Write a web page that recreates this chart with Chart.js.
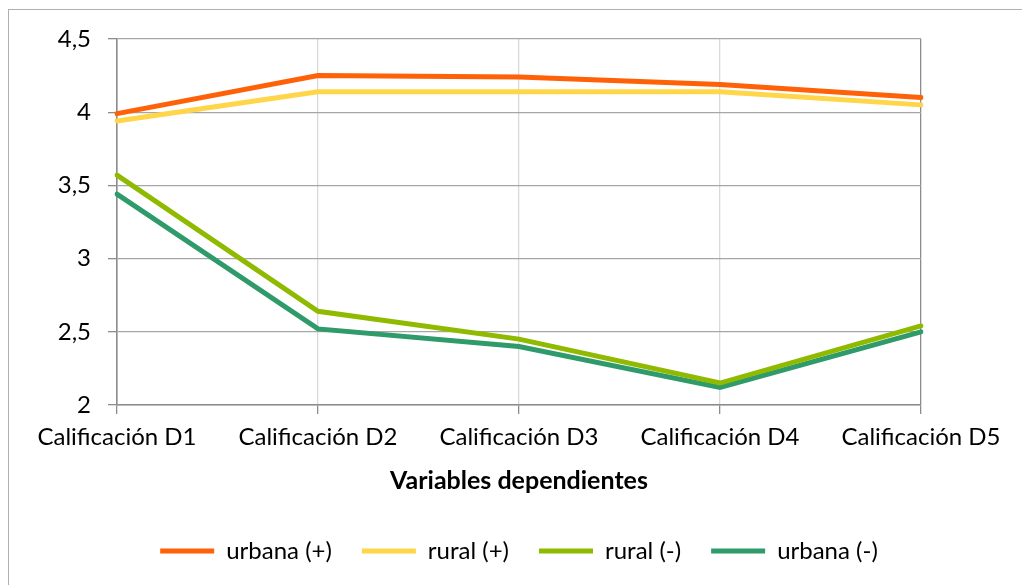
<!DOCTYPE html>
<html>
<head>
<meta charset="utf-8">
<script src="https://cdn.jsdelivr.net/npm/chart.js@4/dist/chart.umd.min.js"></script>
<style>
  html, body { margin: 0; padding: 0; background: #fff; }
  #wrap { position: relative; width: 1022px; height: 585px; overflow: hidden; }
  #frame { position: absolute; left: 8px; top: 9px; width: 1100px; height: 700px;
           border-left: 1.5px solid #b0b0b0; border-top: 1.5px solid #b0b0b0; }
  canvas { position: absolute; left: 0; top: 0; }
</style>
</head>
<body>
<div id="wrap">
  <div id="frame"></div>
  <canvas id="chart" width="1022" height="585"></canvas>
</div>
<script>
const categories = ['Calificación D1', 'Calificación D2', 'Calificación D3', 'Calificación D4', 'Calificación D5'];
const urbanaMas = [3.99, 4.25, 4.24, 4.19, 4.10];
const ruralMas = [3.94, 4.14, 4.14, 4.14, 4.05];
const ruralMenos = [3.57, 2.64, 2.45, 2.15, 2.54];
const urbanaMenos = [3.44, 2.52, 2.40, 2.12, 2.50];
const yTicks = [2, 2.5, 3, 3.5, 4, 4.5];

const FONT = 'Lato, "Open Sans", sans-serif';

function line(label, data, color) {
  return {
    label: label,
    data: data,
    borderColor: color,
    backgroundColor: color,
    borderWidth: 5,
    pointRadius: 0,
    tension: 0,
    borderCapStyle: 'round'
  };
}

// center the legend under the plot area, like the original
const legendUnderPlot = {
  id: 'legendUnderPlot',
  afterLayout(chart) {
    const lg = chart.legend;
    if (!lg) return;
    lg.left = chart.chartArea.left;
    lg.right = chart.chartArea.right;
  }
};

Chart.defaults.font.family = FONT;
Chart.defaults.color = '#000';

new Chart(document.getElementById('chart'), {
  type: 'line',
  data: {
    labels: categories,
    datasets: [
      line('urbana (+)', urbanaMas, '#ff6109'),
      line('rural (+)', ruralMas, '#ffd54a'),
      line('rural (-)', ruralMenos, '#8fba00'),
      line('urbana (-)', urbanaMenos, '#2f9a6a')
    ]
  },
  plugins: [legendUnderPlot],
  options: {
    responsive: false,
    animation: false,
    layout: { padding: { left: 0, top: 39, right: 101, bottom: 12 } },
    plugins: {
      tooltip: { enabled: false },
      legend: {
        position: 'bottom',
        labels: {
          boxWidth: 54,
          boxHeight: 5,
          padding: 30,
          font: { size: 24 },
          color: '#000',
          generateLabels: (chart) =>
            Chart.defaults.plugins.legend.labels.generateLabels(chart).map(l => ({ ...l, lineWidth: 0 }))
        }
      }
    },
    scales: {
      x: {
        offset: false,
        grid: {
          color: (ctx) => ctx.index === categories.length - 1 ? '#8c8c8c' : '#d9d9d9',
          tickColor: '#8c8c8c',
          tickLength: 9,
          lineWidth: 1.3
        },
        border: { color: '#8c8c8c', width: 1.6 },
        ticks: { font: { size: 24 }, padding: 9, maxRotation: 0, autoSkip: false },
        title: {
          display: true,
          text: 'Variables dependientes',
          font: { size: 25, weight: 'bold' },
          padding: { top: 4, bottom: 13 }
        },
        afterFit: (s) => { s.height = 104; }
      },
      y: {
        min: 2,
        max: 4.5,
        afterBuildTicks: (s) => { s.ticks = yTicks.map(v => ({ value: v })); },
        grid: { color: '#a6a6a6', tickColor: '#8c8c8c', tickLength: 9, lineWidth: 1.3 },
        border: { color: '#8c8c8c', width: 1.6 },
        ticks: {
          font: { size: 24 },
          padding: 17,
          callback: (v) => String(v).replace('.', ',')
        },
        afterFit: (s) => { s.width = 117; }
      }
    }
  }
});
</script>
</body>
</html>
